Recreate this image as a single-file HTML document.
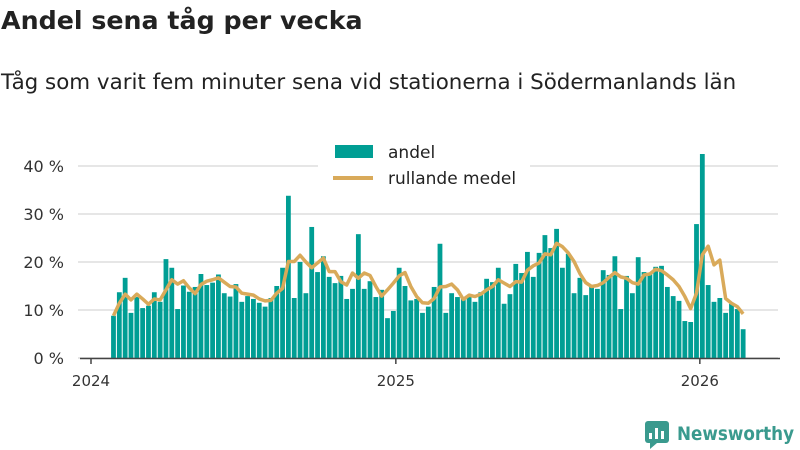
<!DOCTYPE html>
<html><head><meta charset="utf-8">
<style>
body{margin:0;width:800px;height:450px;background:#fff;font-family:"DejaVu Sans","Liberation Sans",sans-serif;overflow:hidden;position:relative}
#title{position:absolute;left:1px;top:6px;font-size:25.3px;font-weight:bold;color:#222;margin:0;white-space:nowrap}
#sub{position:absolute;left:1px;top:70px;font-size:21.4px;color:#222;white-space:nowrap}
svg{position:absolute;left:0;top:0;font-family:"DejaVu Sans","Liberation Sans",sans-serif}
</style></head><body>
<h1 id="title">Andel sena tåg per vecka</h1>
<div id="sub">Tåg som varit fem minuter sena vid stationerna i Södermanlands län</div>
<svg id="chart" width="800" height="450"></svg>
<script>
const andel=[8.8,13.7,16.7,9.4,12.7,10.4,10.9,13.7,11.7,20.6,18.8,10.2,15.1,13.8,14.8,17.5,15.2,15.7,17.4,13.5,12.8,15.4,11.7,12.9,12.3,11.5,10.7,12.5,15,18.8,33.8,12.5,20,13.5,27.3,17.9,21.2,16.9,15.6,17.1,12.3,14.4,25.8,14.4,16,12.7,14.2,8.3,9.8,18.8,15,12,12.3,9.4,10.7,14.8,23.8,9.4,13.5,12.7,12.3,12.7,11.7,13.7,16.5,15.8,18.8,11.3,13.3,19.6,17.7,22.1,16.9,21.9,25.6,22.9,26.9,18.8,21.7,13.5,16.7,13.1,14.8,14.4,18.3,17.3,21.2,10.2,17.1,13.5,21,17.9,17.5,19,19.2,14.8,12.9,11.9,7.7,7.5,27.9,42.5,15.2,11.7,12.5,9.4,11.3,10.2,6.0];
const rullande=[8.8,11.4,13.3,12.1,13.3,12.3,11.2,12.3,12.1,14.2,16.3,15.4,16.1,14.6,13.4,15.3,16,16.3,16.7,15.8,14.9,14.8,13.5,13.3,13.1,12.3,11.9,12,13.5,14.5,20.1,20.1,21.4,20,18.8,19.8,20.8,18,18,15.9,15.2,17.7,16.6,17.7,17.2,14.9,12.9,14.2,15.6,17.1,17.8,14.9,12.8,11.5,11.4,12.4,14.8,14.9,15.4,14.2,12.2,13.1,12.8,13.3,14.2,14.9,16.3,15.6,14.9,15.9,15.8,18.3,19.2,19.8,21.7,21.5,23.9,23.2,21.9,20.1,17.6,15.7,14.9,15.1,15.7,16.8,17.8,16.9,16.6,15.7,15.4,17.3,17.5,18.5,18.2,17.3,16.3,14.9,12.8,10.3,13.5,21.5,23.3,19.4,20.4,12.4,11.4,10.7,9.2];
const yTicks=[0,10,20,30,40];
const xTickLabels=["2024","2025","2026"];
const firstWeek=new Date(Date.UTC(2024,0,28));
const dates=andel.map((_,i)=>new Date(firstWeek.getTime()+i*7*864e5));
const svg=document.getElementById('chart');const NS='http://www.w3.org/2000/svg';
const x0=Date.UTC(2024,0,1),pxPerDay=304/365;
const X=d=>91+(d-x0)/864e5*pxPerDay;
const Y=v=>358-v*4.8;
function el(t,a,p){const e=document.createElementNS(NS,t);for(const k in a)e.setAttribute(k,a[k]);(p||svg).appendChild(e);return e;}
yTicks.forEach(v=>{
 const g=el('line',{x1:78,x2:778,y1:Y(v),y2:Y(v),stroke:'#ddd','stroke-width':1.5});
 
 
 const t=el('text',{x:64,y:Y(v)+6,'text-anchor':'end','font-size':16,fill:'#333'});t.textContent=v+' %';
 
 
});
andel.forEach((v,i)=>{
 const b=el('rect',{x:X(dates[i].getTime())-2.4,y:Y(v),width:4.8,height:358-Y(v),fill:'#009e94'});
 
 
});
const pl=el('polyline',{points:rullande.map((v,i)=>X(dates[i].getTime())+','+Y(v)).join(' '),fill:'none',stroke:'#d9aa5a','stroke-width':3.5,'stroke-linejoin':'round'});


const ax=el('line',{x1:80,x2:780,y1:358.5,y2:358.5,stroke:'#444','stroke-width':1.5});


xTickLabels.forEach(l=>{
 const xx=X(Date.UTC(+l,0,1));
 const tk=el('line',{x1:xx,x2:xx,y1:358,y2:364,stroke:'#444','stroke-width':1.5});
 
 
 const t=el('text',{x:xx,y:386,'text-anchor':'middle','font-size':15,fill:'#333'});t.textContent=l;
 
 
});
const lg=el('g',{});


el('rect',{x:318,y:138,width:212,height:58,fill:'#fff'},lg);
el('rect',{x:335,y:145,width:38,height:13,fill:'#009e94'},lg);
const l1=el('text',{x:388,y:158,'font-size':17,fill:'#222'},lg);l1.textContent='andel';


el('line',{x1:333,x2:373,y1:178,y2:178,stroke:'#d9aa5a','stroke-width':4},lg);
const l2=el('text',{x:388,y:184,'font-size':17,fill:'#222'},lg);l2.textContent='rullande medel';


const lo=el('g',{});


el('rect',{x:645,y:421,width:24,height:22,rx:3,fill:'#3a9a8e'},lo);
el('polygon',{points:'650,443 650,449 657,443',fill:'#3a9a8e'},lo);
el('rect',{x:649,y:433,width:3,height:6,fill:'#fff'},lo);
el('rect',{x:655,y:428,width:3,height:11,fill:'#fff'},lo);
el('rect',{x:661,y:431,width:3,height:8,fill:'#fff'},lo);
const lt=el('text',{x:677,y:440,'font-size':19,'font-weight':'bold',fill:'#3a9a8e',textLength:117,lengthAdjust:'spacingAndGlyphs'},lo);lt.textContent='Newsworthy';
</script>
</body></html>
